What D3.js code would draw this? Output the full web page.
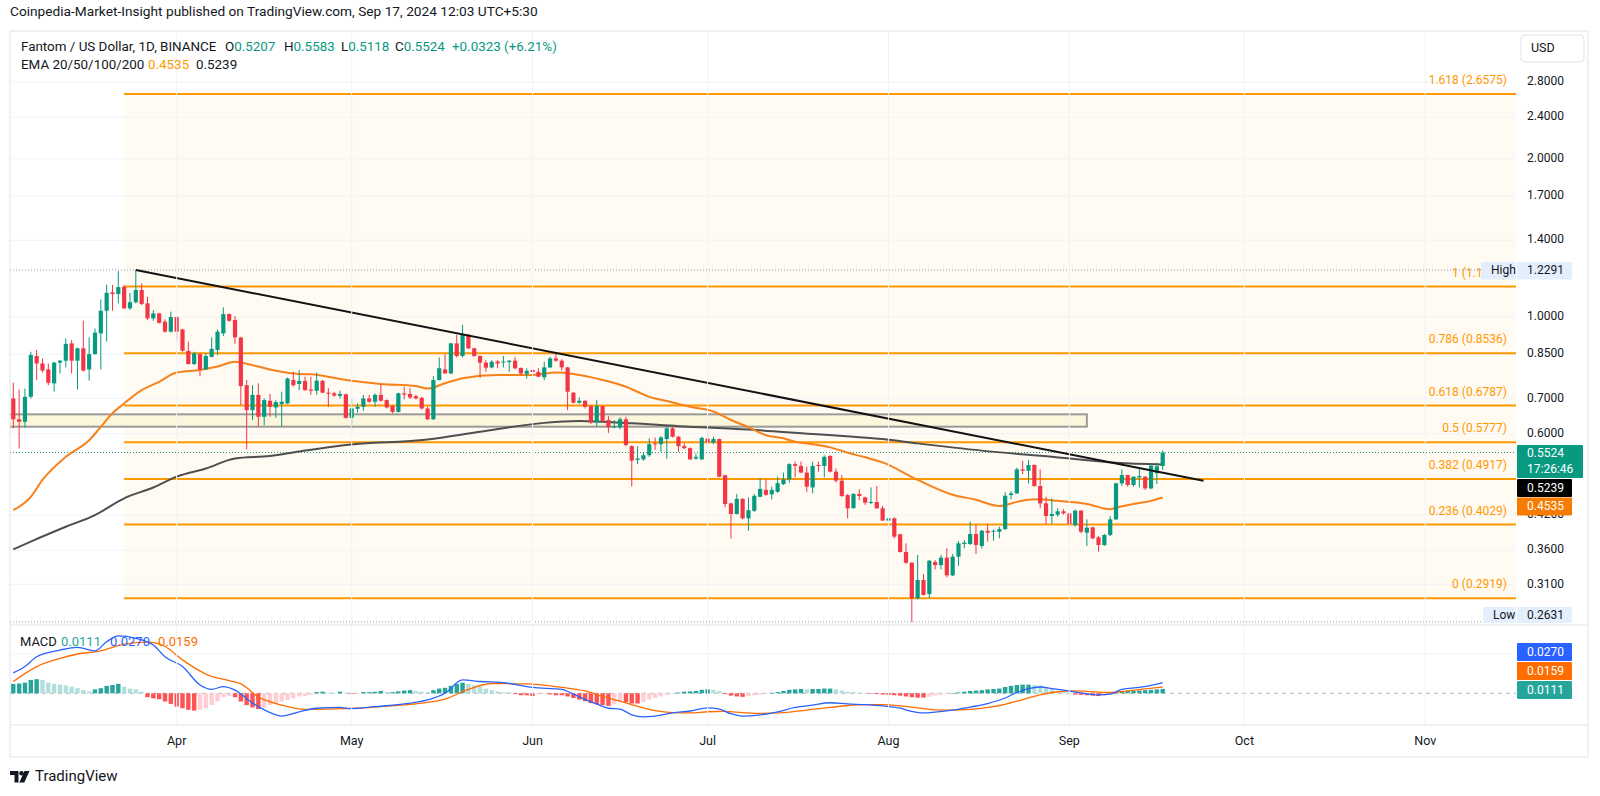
<!DOCTYPE html>
<html><head><meta charset="utf-8">
<script src="https://cdn.jsdelivr.net/npm/d3@7"></script>
<style>
body{margin:0;background:#fff;}
svg{display:block;font-family:Roboto,"Liberation Sans",Arial,sans-serif;}
</style></head>
<body><svg id="c" width="1600" height="796"></svg>
<script>
// ---------------- DATA ----------------
const startDate = "2024-03-04"; // first daily candle
const opens = [
.700,.639,.632,.705,.843,.816,.795,.748,.819,.826,
.891,.826,.872,.795,.850,.931,1.028,1.114,1.106,1.142,
1.039,1.067,1.126,1.062,.994,1.016,.980,.938,1.000,.947,
.862,.814,.850,.795,.840,.866,.931,1.013,.987,.914,
.742,.665,.711,.646,.693,.673,.683,.685,.759,.746,
.756,.728,.724,.756,.718,.716,.708,.713,.643,.669,
.675,.700,.690,.711,.695,.677,.660,.716,.714,.707,
.702,.670,.639,.759,.795,.781,.891,.843,.925,.872,
.843,.819,.802,.823,.821,.821,.826,.800,.780,.793,
.786,.768,.802,.834,.826,.802,.718,.687,.693,.677,
.630,.677,.637,.617,.617,.639,.568,.535,.536,.546,
.575,.573,.586,.614,.592,.568,.563,.538,.536,.587,
.577,.586,.500,.442,.422,.451,.414,.428,.455,.469,
.460,.465,.481,.491,.525,.521,.506,.474,.523,.521,
.544,.508,.4884,.4585,.433,.4606,.4538,.4442,.4448,.4326,
.410,.414,.386,.3573,.3409,.2916,.316,.2972,.3419,.3374,
.3485,.3225,.350,.370,.370,.3866,.3668,.3922,.3905,.3905,
.395,.4585,.4619,.5131,.5101,.523,.477,.4421,.4183,.4207,
.427,.4232,.402,.4282,.3888,.398,.381,.3684,.3849,.4122,
.4826,.5005,.4791,.4955,.4969,.4721,.5045,.5207];
const highs = [
.750,.728,.731,.859,.866,.834,.816,.822,.828,.911,
.904,.875,.984,.915,.951,1.080,1.153,1.151,1.223,1.151,
1.112,1.2291,1.159,1.093,1.031,1.019,.990,1.024,1.004,.950,
.898,.859,.853,.853,.915,.947,1.043,1.016,1.004,.917,
.759,.742,.748,.700,.714,.695,.721,.767,.787,.793,
.770,.770,.784,.759,.732,.721,.724,.715,.700,.685,
.711,.711,.716,.745,.697,.680,.718,.737,.732,.711,
.705,.675,.772,.838,.850,.893,.925,.966,.929,.874,
.845,.828,.828,.828,.843,.828,.840,.802,.799,.799,
.799,.822,.840,.855,.831,.804,.720,.703,.695,.680,
.695,.679,.648,.637,.645,.646,.570,.568,.552,.588,
.590,.594,.617,.620,.594,.575,.565,.550,.592,.610,
.592,.587,.501,.4435,.4605,.452,.454,.4605,.4935,.491,
.476,.497,.506,.527,.531,.531,.519,.531,.531,.546,
.546,.515,.5005,.4605,.462,.470,.4552,.4742,.477,.437,
.418,.416,.387,.3711,.3415,.3526,.3245,.3449,.3449,.3526,
.363,.3541,.375,.3765,.408,.402,.3933,.4038,.394,.3991,
.464,.4667,.5168,.5329,.5345,.5245,.5131,.4552,.4519,.4326,
.4307,.4245,.4307,.4294,.4122,.3991,.3832,.3866,.4183,.484,
.5131,.501,.4975,.5153,.4984,.5268,.529,.5583];
const lows = [
.614,.5625,.616,.700,.759,.784,.742,.721,.781,.802,
.781,.728,.787,.757,.848,.795,.898,1.028,1.062,1.036,
1.031,1.062,1.054,.987,.984,.972,.934,.934,.904,.859,
.812,.810,.772,.793,.838,.846,.920,.980,.889,.680,
.560,.637,.620,.623,.646,.643,.619,.683,.737,.726,
.724,.711,.711,.716,.675,.705,.700,.641,.614,.658,
.663,.687,.675,.690,.670,.656,.658,.697,.698,.697,
.667,.637,.637,.757,.781,.779,.838,.838,.868,.840,
.766,.787,.799,.799,.802,.787,.795,.776,.764,.781,
.769,.758,.800,.822,.791,.665,.685,.684,.670,.626,
.619,.632,.602,.614,.611,.568,.476,.525,.533,.542,
.5585,.554,.538,.590,.554,.560,.535,.535,.535,.575,
.573,.4955,.4345,.379,.421,.412,.392,.426,.454,.457,
.450,.463,.479,.484,.4955,.5045,.465,.462,.508,.4955,
.506,.484,.455,.414,.432,.4486,.439,.4408,.432,.4095,
.379,.379,.3563,.339,.2631,.2903,.2955,.2916,.331,.331,
.3197,.3215,.336,.363,.3684,.3541,.3625,.3738,.3754,.3793,
.3933,.4499,.4606,.5027,.4826,.4756,.4326,.4038,.4038,.417,
.4207,.3979,.3991,.3877,.3668,.3776,.3578,.3668,.3832,.411,
.477,.4756,.4756,.4742,.4687,.4701,.481,.5118];
const closes = [
.639,.632,.705,.847,.816,.791,.750,.819,.826,.889,
.826,.872,.791,.850,.934,1.028,1.112,1.106,1.140,1.039,
1.067,1.126,1.059,.994,1.016,.975,.938,1.000,.938,.863,
.814,.853,.795,.843,.870,.938,1.013,.984,.915,.739,
.665,.711,.646,.695,.675,.689,.690,.764,.742,.756,
.726,.724,.757,.718,.715,.709,.714,.643,.670,.675,
.700,.690,.711,.693,.673,.660,.716,.712,.703,.700,
.670,.639,.759,.799,.781,.891,.843,.925,.872,.843,
.819,.801,.822,.816,.823,.826,.799,.781,.790,.786,
.770,.802,.834,.826,.802,.721,.687,.693,.675,.630,
.677,.635,.617,.620,.639,.571,.533,.538,.546,.573,
.573,.590,.614,.592,.568,.563,.536,.542,.589,.577,
.586,.497,.441,.422,.451,.414,.429,.457,.471,.459,
.469,.483,.491,.525,.521,.506,.4756,.521,.521,.542,
.508,.4884,.4565,.4326,.461,.4566,.4434,.4448,.4326,.410,
.414,.3821,.3573,.3409,.2916,.316,.2959,.3439,.3374,.3485,
.3225,.350,.3711,.3722,.3866,.3684,.3922,.3888,.3922,.395,
.4572,.4619,.5131,.5101,.523,.477,.4421,.4183,.422,.427,
.4232,.4038,.4282,.3905,.3974,.3793,.3684,.3849,.4122,.4826,
.5005,.4791,.4969,.4984,.4721,.5215,.5201,.5524];

// EMA lines: [day offset from startDate, price]
const emaOrange = [[0,0.429],[3,0.455],[5,0.49],[9,0.542],[13,0.583],[15,0.618],[17,0.656],[19,0.685],[22,0.726],[25,0.753],[28,0.784],[32,0.793],[35,0.805],[38,0.822],[41,0.81],[45,0.79],[49,0.779],[51,0.778],[57,0.759],[63,0.746],[69,0.739],[71,0.731],[74,0.748],[77,0.765],[83,0.776],[89,0.776],[93,0.784],[96,0.779],[101,0.759],[105,0.737],[109,0.705],[112,0.692],[116,0.675],[120,0.661],[123,0.637],[126,0.617],[129,0.596],[132,0.588],[134,0.579],[137,0.573],[140,0.565],[143,0.552],[146,0.541],[149,0.529],[155,0.49],[161,0.459],[165,0.449],[169,0.437],[172,0.445],[175,0.45],[179,0.447],[184,0.441],[188,0.431],[189,0.434],[192,0.441],[195,0.447],[197,0.4535]];
const emaDark = [[0,0.3615],[3,0.374],[9,0.399],[14,0.42],[19,0.452],[24,0.474],[28,0.497],[33,0.515],[38,0.538],[44,0.544],[49,0.555],[57,0.571],[71,0.585],[80,0.605],[91,0.629],[97,0.634],[106,0.628],[114,0.620],[126,0.611],[137,0.599],[144,0.592],[149,0.586],[155,0.575],[166,0.557],[178,0.542],[189,0.528],[197,0.5239]];

// MACD (12,26,9)
const macdLine = [[0,0.052],[2,0.068],[4,0.093],[8,0.110],[11,0.117],[14,0.108],[16,0.131],[18,0.146],[21,0.140],[24,0.123],[26,0.093],[29,0.068],[32,0.021],[34,0.010],[36,0.017],[38,0.008],[41,-0.025],[44,-0.049],[46,-0.058],[49,-0.047],[52,-0.038],[56,-0.036],[58,-0.039],[62,-0.034],[67,-0.027],[71,-0.017],[74,0.000],[77,0.034],[80,0.030],[84,0.027],[89,0.015],[94,0.010],[96,-0.002],[98,-0.016],[100,-0.027],[102,-0.038],[104,-0.040],[106,-0.055],[108,-0.060],[110,-0.058],[113,-0.050],[116,-0.045],[119,-0.037],[121,-0.040],[123,-0.052],[125,-0.058],[128,-0.055],[131,-0.047],[134,-0.036],[137,-0.030],[140,-0.024],[143,-0.027],[146,-0.029],[149,-0.032],[152,-0.038],[154,-0.046],[156,-0.050],[158,-0.048],[161,-0.043],[164,-0.035],[167,-0.026],[170,-0.012],[172,0.002],[174,0.012],[176,0.016],[178,0.012],[180,0.008],[183,0.001],[186,-0.004],[188,-0.002],[190,0.010],[193,0.015],[195,0.020],[197,0.027]];
const signalLine = [[0,0.030],[4,0.068],[8,0.089],[11,0.100],[15,0.108],[19,0.125],[23,0.130],[26,0.119],[29,0.085],[33,0.049],[37,0.032],[39,0.024],[42,-0.009],[46,-0.030],[50,-0.041],[57,-0.039],[63,-0.034],[70,-0.025],[74,-0.015],[78,0.010],[82,0.025],[88,0.024],[94,0.015],[98,0.006],[101,-0.008],[104,-0.020],[107,-0.033],[110,-0.044],[113,-0.049],[116,-0.050],[119,-0.047],[122,-0.046],[125,-0.049],[128,-0.051],[131,-0.050],[134,-0.046],[137,-0.041],[140,-0.036],[143,-0.031],[146,-0.029],[149,-0.029],[152,-0.032],[155,-0.037],[158,-0.042],[161,-0.043],[164,-0.041],[167,-0.036],[170,-0.028],[173,-0.016],[176,-0.004],[179,0.004],[182,0.006],[185,0.004],[188,0.002],[191,0.006],[194,0.011],[197,0.0159]];
const histogram = [
0.024,0.025,0.027,0.034,0.036,0.034,0.027,0.024,0.022,0.020,
0.017,0.013,0.008,0.005,0.010,0.013,0.019,0.021,0.024,0.017,
0.012,0.010,0.004,-0.010,-0.013,-0.015,-0.021,-0.027,-0.034,-0.038,
-0.042,-0.044,-0.042,-0.038,-0.030,-0.021,-0.010,-0.007,-0.010,-0.021,
-0.030,-0.036,-0.040,-0.036,-0.030,-0.025,-0.021,-0.017,-0.013,-0.008,
-0.007,-0.004,0.003,0.004,0.002,0.000,0.004,0.002,-0.002,-0.001,
0.003,0.003,0.004,0.006,0.003,0.003,0.005,0.007,0.008,0.006,
0.004,0.003,0.008,0.012,0.014,0.019,0.024,0.027,0.024,0.020,
0.017,0.012,0.008,0.005,0.003,0.002,-0.002,-0.005,-0.005,-0.007,
-0.003,-0.002,-0.003,-0.005,
-0.005,-0.008,-0.012,-0.016,-0.020,
-0.025,-0.028,-0.030,-0.032,-0.028,-0.022,-0.022,-0.026,-0.026,-0.022,
-0.016,-0.012,-0.008,-0.004,-0.001,0.002,0.004,0.005,0.006,0.009,
0.010,0.009,0.006,-0.002,-0.006,-0.008,-0.009,-0.007,-0.005,-0.004,
-0.001,0.001,0.003,0.006,0.009,0.010,0.011,0.010,0.011,0.011,
0.012,0.012,0.010,0.007,0.004,0.003,0.001,0.000,-0.001,-0.002,
-0.003,-0.004,-0.005,-0.006,-0.008,-0.010,-0.011,-0.011,-0.009,-0.006,
-0.004,-0.002,0.000,0.002,0.004,0.006,0.007,0.008,0.010,0.011,
0.012,0.016,0.019,0.021,0.022,0.022,0.021,0.020,0.015,0.010,
0.006,0.003,0.000,-0.003,-0.004,-0.005,-0.006,-0.007,-0.006,-0.004,
0.001,0.005,0.006,0.006,0.007,0.008,0.009,0.010,0.0111];

// Drawings
const fibLevels = [0, 0.236, 0.382, 0.5, 0.618, 0.786, 1, 1.618];
const fibPrices = [0.2919, 0.4029, 0.4917, 0.5777, 0.6787, 0.8536, 1.1433, 2.6575];
const fibStart = "2024-03-23";
const trendDates = ["2024-03-25", "2024-09-24"];
const trendPrices = [1.2291, 0.488];
const boxDates = ["2024-02-20", "2024-09-04"];
const boxPrices = [0.6186, 0.653];
const priceTicks = [2.8, 2.4, 2.0, 1.7, 1.4, 1.0, 0.85, 0.70, 0.60, 0.42, 0.36, 0.31];
const lastPrice = 0.5524, highPrice = 1.2291, lowPrice = 0.2631;
const emaLast = [0.4535, 0.5239];
const macdLast = {hist: 0.0111, macd: 0.0270, signal: 0.0159};

// ---------------- CHART ----------------
const svg = d3.select("#c");
const W = 1600;
const L = 10, R = 1516, AXR = 1588, TOP = 31, MAINB = 625, MACDB = 725, BOT = 757;
const parse = d3.utcParse("%Y-%m-%d");
const t0 = parse(startDate);
const days = opens.map((_, i) => d3.utcDay.offset(t0, i));
const dayOf = k => d3.utcDay.offset(t0, k);

const x = d3.scaleUtc().domain([days[0], days[days.length - 1]]).range([13.3, 1162.7]);
const y = d3.scaleLog().domain([0.31, 2.8]).range([584.4, 82]);
const ym = d3.scaleLinear().domain([-0.08, 0.1]).range([724.74, 654]);

const UP = "#089981", DN = "#f23645", TXT = "#131722", GRID = "#f0f3fa", BORDER = "#e0e3eb";
const FIB = "#ff9800", EMAO = "#f7821b", EMAD = "#4f4f4f";

const defs = svg.append("defs");
defs.append("clipPath").attr("id", "cm").append("rect").attr("x", L).attr("y", TOP).attr("width", R - L).attr("height", MAINB - TOP);
defs.append("clipPath").attr("id", "cd").append("rect").attr("x", L).attr("y", MAINB).attr("width", R - L).attr("height", MACDB - MAINB);

svg.append("rect").attr("width", W).attr("height", 796).attr("fill", "#fff");

// header
svg.append("text").attr("x", 10).attr("y", 12).attr("dominant-baseline", "middle")
  .attr("font-size", 13.7).attr("fill", TXT)
  .text("Coinpedia-Market-Insight published on TradingView.com, Sep 17, 2024 12:03 UTC+5:30");

const main = svg.append("g").attr("clip-path", "url(#cm)");
const macdG = svg.append("g").attr("clip-path", "url(#cd)");

// fib background
const fx0 = x(parse(fibStart));
main.append("rect").attr("x", fx0).attr("y", y(fibPrices[7])).attr("width", R - fx0)
  .attr("height", y(fibPrices[0]) - y(fibPrices[7])).attr("fill", "#fffaf2");

// grid
const months = d3.utcMonth.range(d3.utcMonth.ceil(x.domain()[0]), parse("2024-12-01"));
svg.append("g").selectAll("line").data(months).join("line")
  .attr("x1", d => x(d)).attr("x2", d => x(d)).attr("y1", TOP).attr("y2", MACDB)
  .attr("stroke", GRID).attr("stroke-width", 1);
main.append("g").selectAll("line").data(priceTicks).join("line")
  .attr("x1", L).attr("x2", R).attr("y1", d => y(d)).attr("y2", d => y(d))
  .attr("stroke", GRID).attr("stroke-width", 1).attr("opacity", 0.9);
macdG.append("line").attr("x1", L).attr("x2", R).attr("y1", ym(0.1)).attr("y2", ym(0.1)).attr("stroke", GRID);

// box
const bx0 = x(parse(boxDates[0])), bx1 = x(parse(boxDates[1]));
main.append("rect").attr("x", bx0).attr("y", y(boxPrices[1])).attr("width", bx1 - bx0)
  .attr("height", y(boxPrices[0]) - y(boxPrices[1]))
  .attr("fill", "#fcf6dc").attr("stroke", "#9a9a9a").attr("stroke-width", 2);

// fib lines + labels
main.append("g").selectAll("line").data(fibPrices).join("line")
  .attr("x1", fx0).attr("x2", R).attr("y1", d => y(d)).attr("y2", d => y(d))
  .attr("stroke", FIB).attr("stroke-width", 2);
main.append("g").selectAll("text").data(fibPrices).join("text")
  .attr("x", 1507).attr("y", d => y(d) - 13).attr("text-anchor", "end").attr("dominant-baseline", "middle")
  .attr("font-size", 12).attr("fill", FIB)
  .text((d, i) => `${fibLevels[i]} (${d.toFixed(4)})`);

// dotted lines
main.append("line").attr("x1", L).attr("x2", R).attr("y1", y(highPrice)).attr("y2", y(highPrice))
  .attr("stroke", "#9598a1").attr("stroke-dasharray", "1,2");
main.append("line").attr("x1", L).attr("x2", R).attr("y1", y(lowPrice)).attr("y2", y(lowPrice))
  .attr("stroke", "#9598a1").attr("stroke-dasharray", "1,2");
main.append("line").attr("x1", L).attr("x2", R).attr("y1", y(lastPrice)).attr("y2", y(lastPrice))
  .attr("stroke", UP).attr("stroke-dasharray", "1,2");

// EMA lines
const lineP = d3.line().x(d => x(dayOf(d[0]))).y(d => y(d[1])).curve(d3.curveMonotoneX);
main.append("path").attr("d", lineP(emaDark)).attr("fill", "none").attr("stroke", EMAD).attr("stroke-width", 2);
main.append("path").attr("d", lineP(emaOrange)).attr("fill", "none").attr("stroke", EMAO).attr("stroke-width", 2);

// candles
const cg = main.append("g");
const bw = 4.2;
days.forEach((d, i) => {
  const o = opens[i], c = closes[i], h = highs[i], l = lows[i];
  const col = c >= o ? UP : DN;
  const cx = x(d);
  cg.append("line").attr("x1", cx).attr("x2", cx).attr("y1", y(h)).attr("y2", y(l)).attr("stroke", col).attr("stroke-width", 1);
  const yt = y(Math.max(o, c)), yb = y(Math.min(o, c));
  cg.append("rect").attr("x", cx - bw / 2).attr("y", yt).attr("width", bw).attr("height", Math.max(1, yb - yt)).attr("fill", col);
});

// trend line
main.append("line")
  .attr("x1", x(parse(trendDates[0]))).attr("y1", y(trendPrices[0]))
  .attr("x2", x(parse(trendDates[1]))).attr("y2", y(trendPrices[1]))
  .attr("stroke", "#131313").attr("stroke-width", 2);

// legend
function legendRow(yy, parts, fs) {
  parts.forEach(p => {
    const t = svg.append("text").attr("x", p.x).attr("y", yy).attr("dominant-baseline", "middle").attr("font-size", fs || 13.4).attr("fill", TXT);
    p.segs.forEach(s => t.append("tspan").attr("fill", s[1] || TXT).text(s[0]));
  });
}
legendRow(47, [
  {x: 21, segs: [["Fantom / US Dollar, 1D, BINANCE"]]},
  {x: 225, segs: [["O"], [opens[197].toFixed(4), UP]]},
  {x: 284, segs: [["H"], [highs[197].toFixed(4), UP]]},
  {x: 341, segs: [["L"], [lows[197].toFixed(4), UP]]},
  {x: 395, segs: [["C"], [closes[197].toFixed(4), UP]]},
  {x: 452, segs: [["+0.0323 (+6.21%)", UP]]}
]);
legendRow(65, [
  {x: 21, segs: [["EMA 20/50/100/200"]]},
  {x: 148, segs: [[emaLast[0].toFixed(4), "#ff9800"]]},
  {x: 196, segs: [[emaLast[1].toFixed(4), TXT]]}
]);

// frame
svg.append("line").attr("x1", L).attr("x2", AXR).attr("y1", TOP).attr("y2", TOP).attr("stroke", BORDER);
svg.append("line").attr("x1", L).attr("x2", L).attr("y1", TOP).attr("y2", BOT).attr("stroke", BORDER);
svg.append("line").attr("x1", AXR).attr("x2", AXR).attr("y1", TOP).attr("y2", BOT).attr("stroke", BORDER);
svg.append("line").attr("x1", L).attr("x2", AXR).attr("y1", BOT).attr("y2", BOT).attr("stroke", BORDER);
svg.append("line").attr("x1", L).attr("x2", AXR).attr("y1", MAINB).attr("y2", MAINB).attr("stroke", BORDER);

// USD button
svg.append("rect").attr("x", 1521).attr("y", 35).attr("width", 63).attr("height", 27).attr("rx", 4)
  .attr("fill", "#fff").attr("stroke", BORDER);
svg.append("text").attr("x", 1531).attr("y", 49).attr("dominant-baseline", "middle").attr("font-size", 12.5).attr("fill", TXT).text("USD");

// price axis labels
const fmt = d3.format(".4f");
svg.append("g").selectAll("text").data(priceTicks).join("text")
  .attr("x", 1527).attr("y", d => y(d)).attr("dominant-baseline", "middle")
  .attr("font-size", 12).attr("fill", TXT).text(d => fmt(d));

function box(x0, y0, w, h, fill, lines, color) {
  svg.append("rect").attr("x", x0).attr("y", y0).attr("width", w).attr("height", h).attr("fill", fill).attr("rx", 1);
  lines.forEach((s, k) => svg.append("text").attr("x", x0 + 10).attr("y", y0 + (k + 0.5) * (h / lines.length) + 0.5)
    .attr("dominant-baseline", "middle").attr("font-size", 12).attr("fill", color).text(s));
}
// High / Low
box(1481, 262, 35, 17.5, "#e3effd", ["High"], TXT);
box(1517, 262, 55, 17.5, "#e3effd", [fmt(highPrice)], TXT);
box(1483, 607, 33, 16, "#e3effd", ["Low"], TXT);
box(1517, 607, 55, 16, "#e3effd", [fmt(lowPrice)], TXT);
// last price + EMA labels
box(1517, 445, 66, 33, UP, [fmt(lastPrice), "17:26:46"], "#fff");
box(1517, 479, 55, 18, "#000", [fmt(emaLast[1])], "#fff");
box(1517, 497.5, 55, 18, "#f57c00", [fmt(emaLast[0])], "#fff");

// ---------------- MACD pane ----------------
macdG.append("line").attr("x1", L).attr("x2", R).attr("y1", ym(0)).attr("y2", ym(0))
  .attr("stroke", "#b2b5be").attr("stroke-dasharray", "4,4");
const hb = 4.4;
macdG.append("g").selectAll("rect").data(histogram).join("rect")
  .attr("x", (d, i) => x(days[i]) - hb / 2)
  .attr("y", d => Math.min(ym(d), ym(0)))
  .attr("width", hb)
  .attr("height", d => Math.max(0.5, Math.abs(ym(d) - ym(0))))
  .attr("fill", (d, i) => {
    const p = i > 0 ? histogram[i - 1] : d - 0.001;
    if (d >= 0) return d >= p ? "#26a69a" : "#b2dfdb";
    return d <= p ? "#ff5252" : "#ffcdd2";
  });
const lineM = d3.line().x(d => x(dayOf(d[0]))).y(d => ym(d[1])).curve(d3.curveMonotoneX);
macdG.append("path").attr("d", lineM(signalLine)).attr("fill", "none").attr("stroke", "#ff6d00").attr("stroke-width", 1.3);
macdG.append("path").attr("d", lineM(macdLine)).attr("fill", "none").attr("stroke", "#2962ff").attr("stroke-width", 1.3);

// MACD legend
legendRow(643, [
  {x: 20, segs: [["MACD"]]},
  {x: 61, segs: [[fmt(macdLast.hist), "#26a69a"]]},
  {x: 110, segs: [[fmt(macdLast.macd), "#2962ff"]]},
  {x: 158, segs: [[fmt(macdLast.signal), "#ff6d00"]]}
], 13);
box(1517, 643, 55, 18, "#2962ff", [fmt(macdLast.macd)], "#fff");
box(1517, 662, 55, 18, "#ff6d00", [fmt(macdLast.signal)], "#fff");
box(1517, 681, 55, 18, "#26a69a", [fmt(macdLast.hist)], "#fff");

// time axis
svg.append("line").attr("x1", L).attr("x2", AXR).attr("y1", MACDB).attr("y2", MACDB).attr("stroke", BORDER);
svg.append("g").selectAll("text").data(months).join("text")
  .attr("x", d => x(d)).attr("y", 742).attr("text-anchor", "middle").attr("dominant-baseline", "middle")
  .attr("font-size", 12.5).attr("fill", TXT).text(d3.utcFormat("%b"));

// footer logo
const lg = svg.append("g").attr("fill", TXT);
lg.append("path").attr("d", "M10 771 h8.5 v11.5 h-4 v-7.5 h-4.5 z");
lg.append("circle").attr("cx", 21.5).attr("cy", 773.2).attr("r", 2.2);
lg.append("path").attr("d", "M24.5 771 h5 l-5.2 11.5 h-5 z");
svg.append("text").attr("x", 35).attr("y", 777.5).attr("dominant-baseline", "middle")
  .attr("font-size", 15).attr("fill", TXT).text("TradingView");

if ([highs, lows, closes, histogram].some(a => a.length !== opens.length)) {
  svg.append("text").attr("x", 600).attr("y", 400).attr("fill", "red").text("LEN " + [opens.length, highs.length, lows.length, closes.length, histogram.length].join(","));
}
</script></body></html>
